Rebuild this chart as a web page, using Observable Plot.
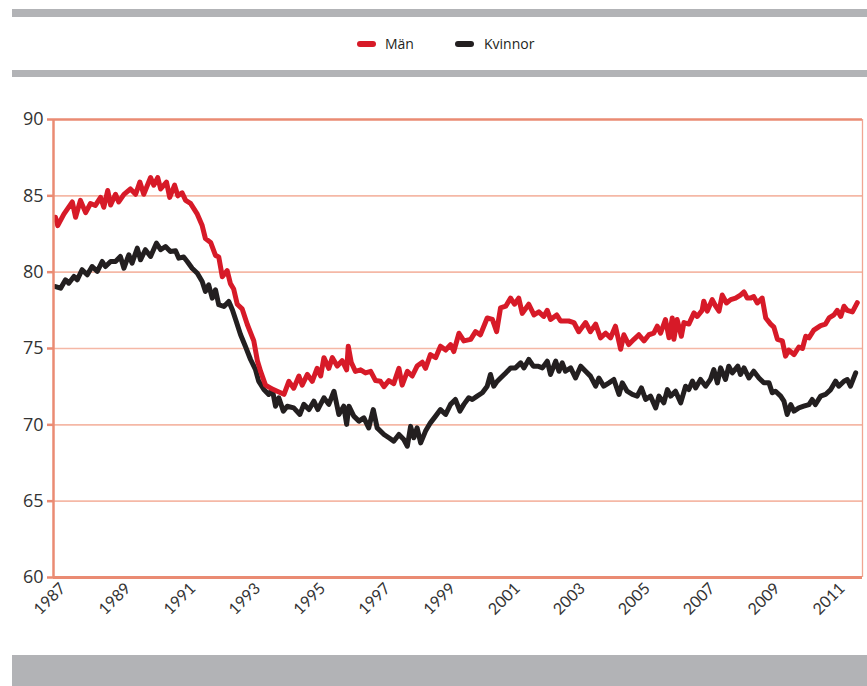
<!DOCTYPE html>
<html><head><meta charset="utf-8">
<script src="https://cdn.jsdelivr.net/npm/d3@7"></script>
<script src="https://cdn.jsdelivr.net/npm/@observablehq/plot@0.6"></script>
<style>
body{margin:0;background:#fff;}
#wrap{position:relative;width:867px;height:686px;overflow:hidden;font-family:"Open Sans",sans-serif;}
.bar{position:absolute;left:12px;right:0;background:#b2b3b6;}
.item{position:absolute;top:35px;font-size:14px;color:#231f20;line-height:18px;}
.sw{position:absolute;width:19px;height:6px;border-radius:3px;top:41px;}
#chart{position:absolute;left:0;top:100px;}
</style></head>
<body>
<div id="wrap">
  <div class="bar" style="top:9px;height:8px"></div>
  <div id="legend"></div>
  <div class="bar" style="top:70px;height:7px"></div>
  <div id="chart"></div>
  <div class="bar" style="top:655px;height:31px"></div>
</div>
<script>
const seriesNames = ["Män", "Kvinnor"];
const seriesColors = ["#d71a28", "#231f20"];
const yTicks = [60, 65, 70, 75, 80, 85, 90];
const gridValues = [65, 70, 75, 80, 85];
const yearTicks = [1987, 1989, 1991, 1993, 1995, 1997, 1999, 2001, 2003, 2005, 2007, 2009, 2011];
const xDomain = [1987, 2011.92];

const menYear = [1987.06,1987.13,1987.32,1987.58,1987.68,1987.83,1987.99,1988.14,1988.29,1988.45,
1988.55,1988.67,1988.76,1988.91,1989.01,1989.17,1989.37,1989.53,1989.66,1989.78,
1989.99,1990.09,1990.21,1990.30,1990.48,1990.58,1990.73,1990.83,1990.96,1991.07,
1991.22,1991.43,1991.58,1991.68,1991.84,1991.99,1992.09,1992.20,1992.35,1992.45,
1992.55,1992.66,1992.81,1992.97,1993.17,1993.28,1993.38,1993.53,1993.69,1993.89,
1994.10,1994.25,1994.40,1994.56,1994.66,1994.82,1994.97,1995.12,1995.23,1995.33,
1995.48,1995.59,1995.74,1995.89,1996.03,1996.08,1996.17,1996.30,1996.46,1996.61,
1996.77,1996.92,1997.07,1997.18,1997.33,1997.48,1997.64,1997.74,1997.90,1998.05,
1998.20,1998.36,1998.46,1998.61,1998.77,1998.92,1999.08,1999.23,1999.33,1999.49,
1999.64,1999.85,2000.00,2000.15,2000.36,2000.52,2000.65,2000.77,2000.93,2001.08,
2001.20,2001.33,2001.44,2001.64,2001.80,2001.95,2002.10,2002.21,2002.31,2002.50,
2002.62,2002.87,2003.03,2003.18,2003.39,2003.54,2003.70,2003.85,2004.01,2004.16,
2004.31,2004.47,2004.57,2004.72,2004.88,2005.03,2005.19,2005.34,2005.49,2005.60,
2005.70,2005.85,2005.96,2006.06,2006.11,2006.21,2006.34,2006.42,2006.57,2006.73,
2006.83,2006.98,2007.03,2007.14,2007.29,2007.39,2007.50,2007.60,2007.73,2007.86,
2008.01,2008.16,2008.27,2008.37,2008.47,2008.57,2008.68,2008.83,2008.94,2009.09,
2009.19,2009.30,2009.45,2009.55,2009.65,2009.81,2009.96,2010.07,2010.17,2010.27,
2010.42,2010.63,2010.78,2010.89,2011.04,2011.14,2011.25,2011.35,2011.45,2011.61,
2011.76];
const menValue = [83.6,83.05,83.8,84.6,83.6,84.7,83.9,84.5,84.37,84.9,
84.25,85.35,84.4,85.1,84.6,85.1,85.45,85.1,85.9,85.1,
86.2,85.7,86.2,85.45,85.9,84.9,85.7,85.0,85.2,84.7,
84.5,83.8,83.05,82.2,81.95,81.1,81.0,79.7,80.1,79.25,
78.9,77.9,77.6,76.57,75.5,74.2,73.5,72.6,72.4,72.2,
72.0,72.85,72.4,73.2,72.6,73.3,72.85,73.7,73.2,74.4,
73.7,74.4,73.85,74.2,73.6,75.15,74.1,73.5,73.6,73.4,
73.5,72.9,72.85,72.5,72.9,72.7,73.7,72.6,73.5,73.2,
73.85,74.1,73.7,74.6,74.4,75.15,74.9,75.25,74.8,76.0,
75.5,75.6,76.1,75.9,77.0,76.9,76.1,77.66,77.77,78.3,
77.9,78.3,77.3,77.9,77.2,77.4,77.1,77.5,76.9,77.2,
76.8,76.8,76.7,76.1,76.7,76.1,76.6,75.7,76.0,75.7,
76.46,74.95,75.9,75.26,75.6,75.9,75.5,75.9,76.0,76.46,
76.0,76.9,75.7,77.0,75.6,76.9,75.8,76.7,76.6,77.33,
77.1,77.5,78.1,77.45,78.2,77.8,77.45,78.5,77.98,78.2,
78.3,78.5,78.7,78.3,78.3,78.4,77.98,78.3,77.0,76.6,
76.4,75.6,75.5,74.5,74.9,74.6,75.1,75.0,75.8,75.7,
76.2,76.5,76.6,77.0,77.2,77.5,77.1,77.77,77.5,77.4,
78.0];

const womenYear = [1987.06,1987.22,1987.37,1987.47,1987.63,1987.73,1987.88,1988.04,1988.19,1988.35,
1988.50,1988.60,1988.76,1988.91,1989.06,1989.17,1989.32,1989.42,1989.58,1989.68,
1989.83,1989.99,1990.17,1990.30,1990.45,1990.60,1990.76,1990.86,1991.01,1991.12,
1991.27,1991.43,1991.58,1991.68,1991.78,1991.89,1991.99,1992.09,1992.25,1992.40,
1992.51,1992.61,1992.76,1992.91,1993.07,1993.22,1993.32,1993.48,1993.63,1993.74,
1993.84,1993.94,1994.08,1994.20,1994.40,1994.59,1994.71,1994.87,1995.02,1995.14,
1995.33,1995.48,1995.64,1995.79,1995.94,1996.03,1996.10,1996.25,1996.41,1996.56,
1996.71,1996.85,1996.97,1997.18,1997.33,1997.48,1997.64,1997.79,1997.90,1998.00,
1998.10,1998.20,1998.31,1998.46,1998.61,1998.77,1998.92,1999.08,1999.23,1999.38,
1999.52,1999.64,1999.79,1999.90,2000.05,2000.21,2000.36,2000.46,2000.56,2000.67,
2000.77,2000.93,2001.08,2001.23,2001.39,2001.49,2001.64,2001.78,2001.92,2002.06,
2002.21,2002.31,2002.47,2002.57,2002.67,2002.77,2002.93,2003.08,2003.24,2003.39,
2003.54,2003.70,2003.80,2003.95,2004.11,2004.26,2004.42,2004.52,2004.67,2004.83,
2004.98,2005.11,2005.24,2005.39,2005.55,2005.65,2005.80,2005.91,2006.01,2006.16,
2006.32,2006.47,2006.57,2006.68,2006.78,2006.93,2007.09,2007.24,2007.34,2007.45,
2007.55,2007.70,2007.80,2007.91,2008.08,2008.16,2008.27,2008.42,2008.57,2008.73,
2008.88,2009.04,2009.14,2009.24,2009.40,2009.50,2009.60,2009.71,2009.81,2009.96,
2010.11,2010.27,2010.37,2010.47,2010.63,2010.78,2010.94,2011.09,2011.19,2011.35,
2011.45,2011.55,2011.71];
const womenValue = [79.06,78.95,79.5,79.28,79.72,79.5,80.16,79.83,80.37,80.05,
80.7,80.37,80.7,80.7,81.03,80.26,81.14,80.59,81.57,80.81,
81.47,81.03,81.9,81.47,81.68,81.36,81.4,80.92,80.99,80.7,
80.26,79.93,79.39,78.74,79.17,78.3,78.85,77.87,77.75,78.08,
77.54,76.9,75.92,75.15,74.28,73.63,72.86,72.32,71.99,72.32,
71.22,71.77,70.9,71.22,71.11,70.68,71.34,71.0,71.55,71.0,
71.77,71.34,72.2,70.68,71.22,70.03,71.22,70.57,70.24,70.46,
69.8,71.0,69.8,69.37,69.15,68.93,69.37,69.04,68.6,69.9,
69.15,69.8,68.82,69.59,70.13,70.57,71.0,70.68,71.34,71.66,
70.9,71.34,71.77,71.66,71.88,72.1,72.53,73.3,72.53,72.86,
73.07,73.4,73.73,73.73,74.06,73.73,74.28,73.84,73.84,73.73,
74.17,73.3,74.17,73.51,74.06,73.51,73.73,73.07,73.84,73.51,
73.19,72.53,73.07,72.53,72.75,72.97,71.99,72.75,72.2,71.99,
71.88,72.42,71.66,71.88,71.11,71.88,71.44,72.31,71.88,72.2,
71.44,72.53,72.31,72.86,72.42,72.97,72.53,73.0,73.62,72.75,
73.73,72.97,73.84,73.4,73.84,73.3,73.73,73.07,73.51,73.07,
72.75,72.75,72.1,72.2,71.88,71.55,70.68,71.33,70.9,71.11,
71.22,71.33,71.66,71.33,71.88,71.99,72.31,72.86,72.53,72.86,
72.97,72.53,73.4];

const menData = menYear.map((t, i) => ({year: t, value: menValue[i]}));
const womenData = womenYear.map((t, i) => ({year: t, value: womenValue[i]}));

// legend
const legend = document.getElementById("legend");
const legendPos = [{sw: 357, tx: 385}, {sw: 455, tx: 484}];
seriesNames.forEach((name, i) => {
  const sw = document.createElement("div");
  sw.className = "sw";
  sw.style.left = legendPos[i].sw + "px";
  sw.style.background = seriesColors[i];
  legend.appendChild(sw);
  const tx = document.createElement("div");
  tx.className = "item";
  tx.style.left = legendPos[i].tx + "px";
  tx.textContent = name;
  legend.appendChild(tx);
});

const salmon = "#ea8b73";
const chart = Plot.plot({
  width: 867,
  height: 555,
  marginTop: 19,
  marginBottom: 78,
  marginLeft: 53,
  marginRight: 5,
  x: {domain: xDomain, axis: null},
  y: {domain: [60, 90], axis: null},
  style: {background: "transparent", fontFamily: "'Open Sans', sans-serif"},
  marks: [
    Plot.ruleY(gridValues, {stroke: "#f5b8a6", strokeWidth: 1.6}),
    Plot.ruleY([90], {stroke: salmon, strokeWidth: 2.5}),
    Plot.ruleX([xDomain[1]], {stroke: "#f1a592", strokeWidth: 1.3}),
    Plot.line(womenData, {x: "year", y: "value", stroke: seriesColors[1], strokeWidth: 5, strokeLinejoin: "round", strokeLinecap: "round"}),
    Plot.line(menData, {x: "year", y: "value", stroke: seriesColors[0], strokeWidth: 5, strokeLinejoin: "round", strokeLinecap: "round"}),
    Plot.ruleY([60], {stroke: salmon, strokeWidth: 3}),
    Plot.ruleX([xDomain[0]], {stroke: salmon, strokeWidth: 2.5}),
    Plot.axisY(yTicks, {anchor: "left", tickSize: 6, tickPadding: 4, stroke: salmon, strokeWidth: 2.5, fill: "#333", fontSize: 18, label: null}),
    Plot.text(yearTicks, {x: d => d, text: d => String(d), frameAnchor: "bottom", dy: 25, rotate: -45, textAnchor: "middle", fontSize: 16, fontFamily: "Lato, sans-serif", fill: "#333"})
  ]
});
document.getElementById("chart").appendChild(chart);
</script>
</body></html>
